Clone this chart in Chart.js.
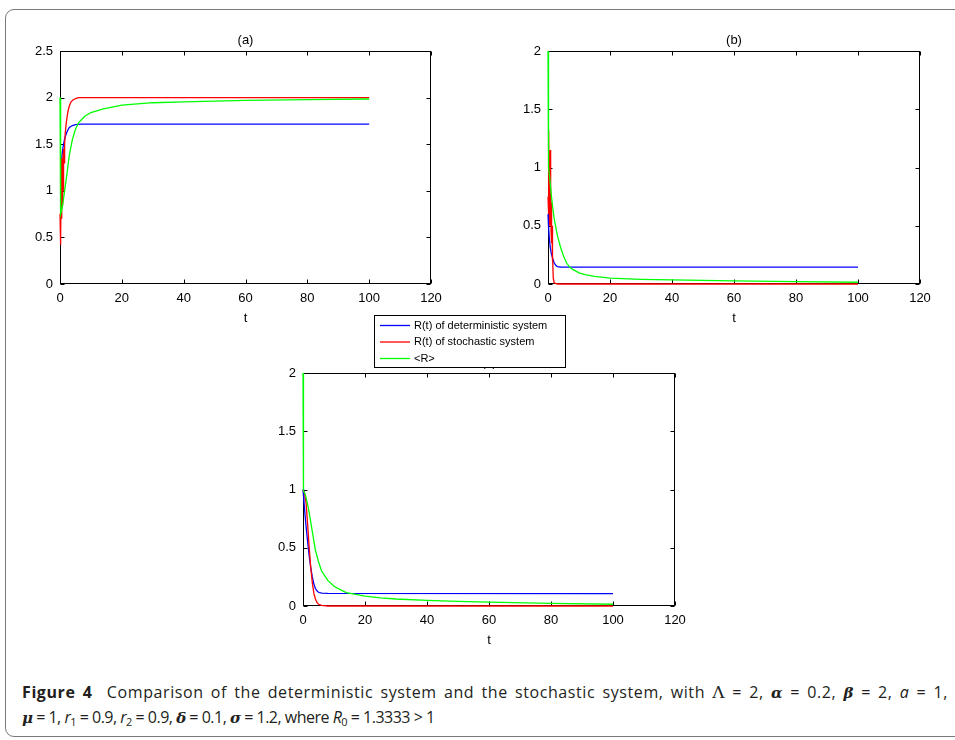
<!DOCTYPE html>
<html lang="en">
<head>
<meta charset="UTF-8">
<title>Figure 4</title>
<style>
  body { margin: 0; width: 955px; height: 740px; overflow: hidden; background: #fff; position: relative; }
  #frame { position: absolute; left: 5px; top: 9px; width: 1000px; height: 726px; border: 1px solid #7a7a7a; border-radius: 9px; }
  canvas { position: absolute; }
  .cap { position: absolute; left: 22px; font-family: "Open Sans", sans-serif; font-size: 16px; line-height: 25px; color: #231f20; letter-spacing: -0.5px; white-space: nowrap; }
  #cap1 { top: 680px; width: 926px; white-space: normal; text-align: justify; text-align-last: justify; letter-spacing: 0.6px; }
  #cap2 { top: 705px; }
  .cap b { font-weight: 700; }
  .cap .g { font-family: "DejaVu Serif", serif; font-style: italic; font-weight: bold; font-size: 15px; }
  .cap .L { font-family: "DejaVu Serif", serif; font-size: 17px; }
  .cap sub { font-size: 11px; vertical-align: -3px; line-height: 0; }
</style>
</head>
<body>
<div id="frame"></div>
<canvas id="chartA" width="436" height="298" style="left:15px;top:31px"></canvas>
<canvas id="chartB" width="437" height="298" style="left:503px;top:31px"></canvas>
<canvas id="chartC" width="437" height="351" style="left:258px;top:300px"></canvas>
<div class="cap" id="cap1"><b>Figure 4</b>&nbsp; Comparison of the deterministic system and the stochastic system, with <span class="L">Λ</span>&nbsp;=&nbsp;2, <span class="g">α</span>&nbsp;=&nbsp;0.2, <span class="g">β</span>&nbsp;=&nbsp;2, <i>a</i>&nbsp;=&nbsp;1,</div>
<div class="cap" id="cap2"><span class="g">μ</span> = 1, <i>r</i><sub>1</sub> = 0.9, <i>r</i><sub>2</sub> = 0.9, <span class="g">δ</span> = 0.1, <span class="g">σ</span> = 1.2, where <i>R</i><sub>0</sub> = 1.3333 &gt; 1</div>

<script src="https://cdn.jsdelivr.net/npm/chart.js@4.4.1/dist/chart.umd.min.js"></script>
<script>
        const seriesNames = ['R(t) of deterministic system', 'R(t) of stochastic system', '<R>']
        const seriesColors = ['#0000ff', '#ff0000', '#00ff00']
        const xTicks = [0, 20, 40, 60, 80, 100, 120]

        // (a)
        const aDetT = [0, 0.2, 0.4, 0.7, 1, 1.5, 2, 2.5, 3, 4, 5, 7, 10, 100]
        const aDetR = [0.95, 1.15, 1.27, 1.4, 1.47, 1.56, 1.61, 1.65, 1.68, 1.70, 1.71, 1.715, 1.715, 1.715]
        const aStoT = [0, 0.1, 0.2, 0.3, 0.4, 0.5, 0.6, 0.7, 0.8, 0.9, 1.0, 1.1, 1.2, 1.3, 1.5, 1.7, 2, 2.5, 3, 3.5, 4, 5, 6, 8, 100]
        const aStoR = [0.75, 0.42, 0.9, 0.45, 1.2, 0.7, 1.35, 0.85, 1.1, 0.9, 1.4, 1.0, 1.45, 1.3, 1.5, 1.62, 1.72, 1.84, 1.91, 1.95, 1.97, 1.99, 2.0, 2.0, 2.0]
        const aAvgT = [0, 0.1, 0.3, 0.6, 1, 1.5, 2, 2.5, 3, 4, 5, 6, 8, 10, 14, 20, 30, 40, 60, 80, 100]
        const aAvgR = [2.0, 1.2, 0.75, 0.8, 0.88, 1.0, 1.12, 1.25, 1.38, 1.55, 1.66, 1.73, 1.80, 1.84, 1.88, 1.92, 1.945, 1.955, 1.97, 1.978, 1.985]

        // (b)
        const bDetT = [0, 0.2, 0.4, 0.7, 1, 1.5, 2, 2.5, 3, 4, 5, 100]
        const bDetR = [0.6, 0.48, 0.4, 0.32, 0.27, 0.22, 0.18, 0.16, 0.15, 0.146, 0.145, 0.145]
        const bStoT = [0, 0.1, 0.2, 0.3, 0.4, 0.5, 0.6, 0.7, 0.8, 0.9, 1.0, 1.1, 1.2, 1.3, 1.4, 1.5, 1.7, 2, 3, 100]
        const bStoR = [0.75, 1.1, 0.6, 1.32, 0.7, 0.95, 0.5, 1.15, 0.65, 0.85, 0.45, 0.7, 0.35, 0.5, 0.2, 0.25, 0.05, 0.01, 0, 0]
        const bAvgT = [0, 0.05, 0.15, 0.3, 0.6, 1, 1.5, 2, 3, 4, 5, 6, 7, 8, 10, 12, 15, 20, 30, 40, 60, 80, 100]
        const bAvgR = [2.0, 1.6, 1.2, 1.0, 0.9, 0.78, 0.66, 0.56, 0.42, 0.32, 0.24, 0.18, 0.145, 0.125, 0.095, 0.08, 0.065, 0.05, 0.04, 0.035, 0.026, 0.02, 0.015]

        // (c)
        const cDetT = [0, 0.3, 0.6, 1, 1.5, 2, 2.5, 3, 3.5, 4, 4.5, 5, 6, 8, 100]
        const cDetR = [1.0, 0.9, 0.8, 0.68, 0.55, 0.43, 0.33, 0.25, 0.19, 0.15, 0.13, 0.118, 0.11, 0.108, 0.107]
        const cStoT = [0, 0.5, 1, 1.5, 2, 2.5, 3, 3.5, 4, 4.5, 5, 6, 8, 100]
        const cStoR = [1.0, 0.97, 0.88, 0.7, 0.5, 0.33, 0.2, 0.11, 0.06, 0.03, 0.015, 0.005, 0, 0]
        const cAvgT = [0, 0.05, 0.1, 0.3, 0.7, 1, 1.5, 2, 3, 4, 5, 6, 7, 8, 10, 12, 14, 17, 20, 25, 30, 40, 50, 60, 80, 100]
        const cAvgR = [2.0, 1.5, 1.0, 0.99, 0.96, 0.93, 0.87, 0.8, 0.64, 0.48, 0.38, 0.3, 0.26, 0.22, 0.17, 0.14, 0.115, 0.1, 0.085, 0.07, 0.06, 0.048, 0.04, 0.033, 0.022, 0.015]

        const pts = (t, r) => t.map((v, i) => ({ x: v, y: r[i] }))
        const font = { family: '"Liberation Sans", Arial, sans-serif', size: 13 }

        // axes box with inward ticks, like matlab (drawn under the lines)
        const boxTicks = {
                id: 'boxTicks',
                beforeDatasetsDraw(chart) {
                        const { ctx, chartArea: a, scales: { x, y } } = chart
                        const L = Math.round(a.left) + 0.5, R = Math.round(a.right) - 0.5
                        const T = Math.round(a.top) + 0.5, B = Math.round(a.bottom) - 0.5
                        ctx.save()
                        ctx.strokeStyle = '#000'
                        ctx.lineWidth = 1
                        ctx.strokeRect(L, T, R - L, B - T)
                        ctx.beginPath()
                        x.ticks.forEach(tk => {
                                const px = Math.round(x.getPixelForValue(tk.value)) + 0.5
                                ctx.moveTo(px, B); ctx.lineTo(px, B - 4)
                                ctx.moveTo(px, T); ctx.lineTo(px, T + 4)
                        })
                        y.ticks.forEach(tk => {
                                const py = Math.round(y.getPixelForValue(tk.value)) + 0.5
                                ctx.moveTo(L, py); ctx.lineTo(L + 4, py)
                                ctx.moveTo(R, py); ctx.lineTo(R - 4, py)
                        })
                        ctx.stroke()
                        ctx.restore()
                }
        }

        const panelTitle = {
                id: 'panelTitle',
                beforeDatasetsDraw(chart, args, opts) {
                        const { ctx, chartArea: a } = chart
                        ctx.save()
                        ctx.fillStyle = '#000'
                        ctx.font = '13px "Liberation Sans", Arial, sans-serif'
                        ctx.textAlign = 'center'
                        ctx.textBaseline = 'middle'
                        ctx.fillText(opts.text, (a.left + a.right) / 2, a.top - 11)
                        ctx.restore()
                }
        }

        // floating legend box (sits above panel c)
        const boxLegend = {
                id: 'boxLegend',
                afterDraw(chart, args, opts) {
                        if (!opts.show) return
                        const { ctx, chartArea: a } = chart
                        const left = Math.round(a.left) + 71, top = Math.round(a.top) - 58
                        ctx.save()
                        ctx.fillStyle = '#fff'
                        ctx.fillRect(left, top, 191, 52)
                        ctx.strokeStyle = '#000'
                        ctx.lineWidth = 1
                        ctx.strokeRect(left + 0.5, top + 0.5, 191, 52)
                        ctx.font = '11px "Liberation Sans", Arial, sans-serif'
                        ctx.textBaseline = 'middle'
                        chart.data.datasets.forEach((ds, i) => {
                                const yy = top + 10.5 + i * 16.5
                                ctx.strokeStyle = ds.borderColor
                                ctx.lineWidth = 1.3
                                ctx.beginPath()
                                ctx.moveTo(left + 6, yy); ctx.lineTo(left + 36, yy)
                                ctx.stroke()
                                ctx.fillStyle = '#000'
                                ctx.fillText(ds.label, left + 40, yy)
                        })
                        ctx.restore()
                }
        }

        function makeChart(id, title, yMax, det, sto, avg, padTop, legend) {
                const sets = [det, sto, avg]
                return new Chart(document.getElementById(id), {
                        type: 'line',
                        data: {
                                datasets: sets.map((d, i) => ({
                                        label: seriesNames[i],
                                        data: d,
                                        borderColor: seriesColors[i],
                                        borderWidth: 1.3,
                                        pointRadius: 0,
                                        tension: 0,
                                        fill: false,
                                        clip: 4,
                                        order: 2 - i
                                }))
                        },
                        options: {
                                responsive: false,
                                animation: false,
                                layout: { padding: { top: padTop, right: 20, left: 0, bottom: 0 } },
                                plugins: {
                                        legend: { display: false },
                                        tooltip: { enabled: false },
                                        panelTitle: { text: title },
                                        boxLegend: { show: legend }
                                },
                                scales: {
                                        x: {
                                                type: 'linear', min: 0, max: 120,
                                                afterBuildTicks: s => { s.ticks = xTicks.map(v => ({ value: v })) },
                                                ticks: { color: '#000', font, padding: 7, maxRotation: 0 },
                                                grid: { display: false, drawTicks: false },
                                                border: { display: false },
                                                title: { display: true, text: 't', color: '#000', font, padding: { top: 0, bottom: 3 } },
                                                afterFit: s => { s.height = 45 }
                                        },
                                        y: {
                                                min: 0, max: yMax,
                                                ticks: { stepSize: 0.5, color: '#000', font, padding: 7, callback: v => String(+v.toFixed(2)) },
                                                grid: { display: false, drawTicks: false },
                                                border: { display: false },
                                                afterFit: s => { s.width = 45 }
                                        }
                                }
                        },
                        plugins: [boxTicks, panelTitle, boxLegend]
                })
        }

        makeChart('chartA', '(a)', 2.5, pts(aDetT, aDetR), pts(aStoT, aStoR), pts(aAvgT, aAvgR), 20, false)
        makeChart('chartB', '(b)', 2, pts(bDetT, bDetR), pts(bStoT, bStoR), pts(bAvgT, bAvgR), 20, false)
        makeChart('chartC', '(c)', 2, pts(cDetT, cDetR), pts(cStoT, cStoR), pts(cAvgT, cAvgR), 73, true)
</script>
</body>
</html>
